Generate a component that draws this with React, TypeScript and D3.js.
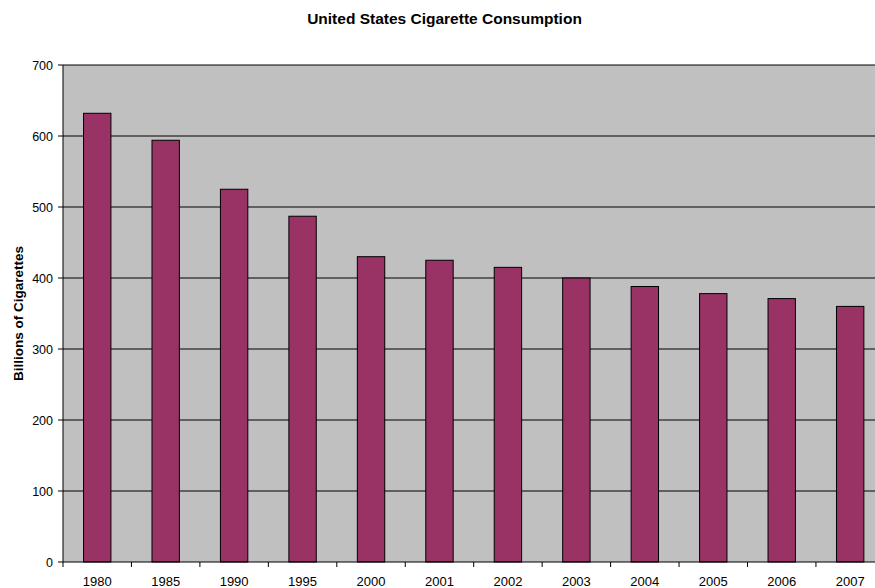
import React from "react";
import * as d3 from "d3";

const years = ["1980","1985","1990","1995","2000","2001","2002","2003","2004","2005","2006","2007"];
const values = [632, 594, 525, 487, 430, 425, 415, 400, 388, 378, 371, 360];
const yTicks = [0, 100, 200, 300, 400, 500, 600, 700];

export default function App() {
  const W = 875, H = 588;
  const left = 63, top = 65, bottom = 562;
  const band = 68.45;
  const right = left + band * years.length;
  const x = d3.scaleBand<string>().domain(years).range([left, right]).paddingInner(0.6).paddingOuter(0.3);
  const y = d3.scaleLinear().domain([0, 700]).range([bottom, top]);
  const font = "'Liberation Sans', Arial, sans-serif";
  const boundaries = d3.range(years.length + 1).map(i => left + i * band);
  return (
    <svg width={W} height={H} style={{ position: "absolute", left: 0, top: 0 }}>
      <rect x={0} y={0} width={W} height={H} fill="#fff" />
      <text x={444.5} y={24} textAnchor="middle" fontFamily={font} fontWeight="bold" fontSize={15.5}>United States Cigarette Consumption</text>
      <rect x={left} y={top} width={right - left} height={bottom - top} fill="#c0c0c0" />
      {yTicks.map(t => (
        <g key={t}>
          {t > 0 && <line x1={left} x2={right} y1={y(t)} y2={y(t)} stroke="#000" strokeWidth={1} />}
          <line x1={left - 5} x2={left} y1={y(t)} y2={y(t)} stroke="#000" />
          <text x={left - 10} y={y(t) + 4.5} textAnchor="end" fontFamily={font} fontSize={12.5}>{t}</text>
        </g>
      ))}
      {values.map((v, i) => (
        <rect key={years[i]} x={x(years[i])!} y={y(v)} width={x.bandwidth()} height={bottom - y(v)} fill="#993366" stroke="#000" strokeWidth={1} />
      ))}
      <line x1={left} x2={left} y1={top} y2={bottom} stroke="#000" strokeWidth={1} />
      <line x1={left} x2={right} y1={bottom} y2={bottom} stroke="#000" strokeWidth={1} />
      {boundaries.map((b, i) => (
        <line key={i} x1={b} x2={b} y1={bottom} y2={bottom + 5} stroke="#000" />
      ))}
      {years.map(yr => (
        <text key={yr} x={x(yr)! + x.bandwidth() / 2} y={586} textAnchor="middle" fontFamily={font} fontSize={13}>{yr}</text>
      ))}
      <text transform={`translate(23, ${(top + bottom) / 2}) rotate(-90)`} textAnchor="middle" fontFamily={font} fontWeight="bold" fontSize={13.5}>Billions of Cigarettes</text>
    </svg>
  );
}
